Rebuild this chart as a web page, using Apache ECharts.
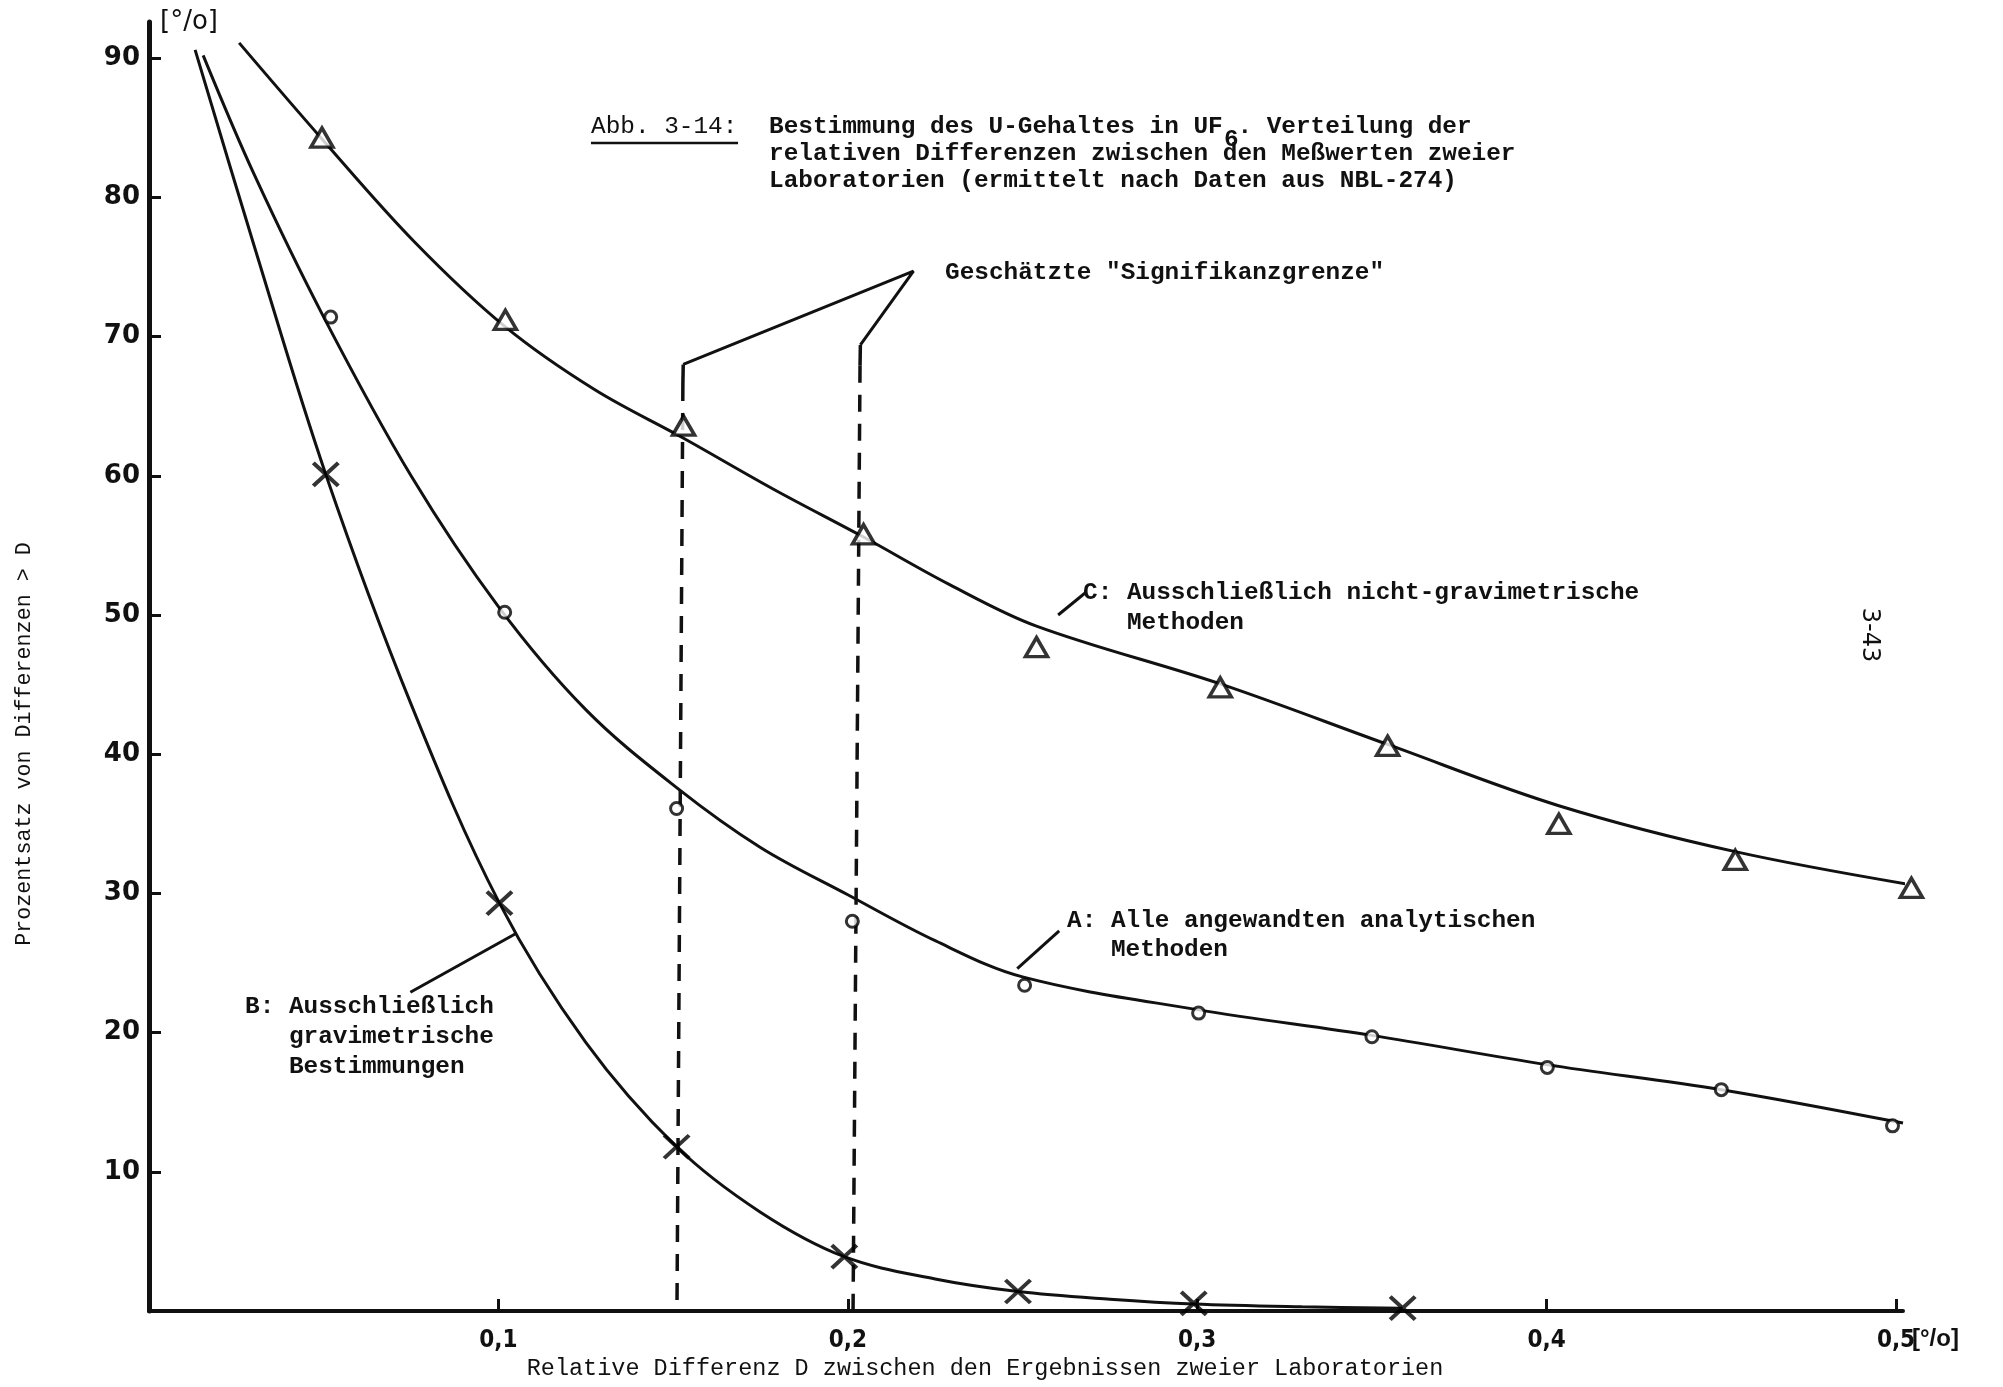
<!DOCTYPE html>
<html>
<head>
<meta charset="utf-8">
<script src="https://cdn.jsdelivr.net/npm/echarts@6/dist/echarts.min.js"></script>
<style>
  html, body { margin: 0; padding: 0; background: #fff; }
  #chart { width: 2003px; height: 1387px; }
</style>
</head>
<body>
<div id="chart"></div>
<script>
// Relative Differenz D [%] gegen Prozentsatz von Differenzen > D [%]

// Kurve A: alle angewandten analytischen Methoden (Ausgleichskurve und Messpunkte)
const curveA = [
  [0.0155, 90.2], [0.03, 81.7], [0.050, 71.4], [0.075, 60.0], [0.100, 50.6],
  [0.125, 43.2], [0.151, 37.6], [0.175, 33.3], [0.200, 29.9], [0.225, 26.6],
  [0.250, 24.0], [0.300, 21.65], [0.350, 19.8], [0.400, 17.7], [0.450, 15.9],
  [0.502, 13.5]
];
const pointsA = [
  [0.052, 71.4], [0.1018, 50.2], [0.151, 36.1], [0.2013, 28.0], [0.2506, 23.4],
  [0.3004, 21.4], [0.350, 19.7], [0.4002, 17.5], [0.450, 15.9], [0.499, 13.3]
];

// Kurve B: ausschließlich gravimetrische Bestimmungen
const curveB = [
  [0.0132, 90.6], [0.030, 76.6], [0.0506, 60.1], [0.075, 43.6], [0.1003, 29.3],
  [0.125, 19.3], [0.151, 11.8], [0.175, 7.1], [0.199, 3.9], [0.225, 2.3],
  [0.2487, 1.4], [0.275, 0.85], [0.299, 0.5], [0.330, 0.3], [0.3588, 0.2]
];
const pointsB = [
  [0.0506, 60.1], [0.1003, 29.3], [0.151, 11.8], [0.199, 3.9], [0.2487, 1.4],
  [0.299, 0.55], [0.3588, 0.2]
];

// Kurve C: ausschließlich nicht-gravimetrische Methoden
const curveC = [
  [0.0258, 91.1], [0.0495, 84.2], [0.076, 76.8], [0.102, 70.7], [0.1275, 66.2],
  [0.153, 62.7], [0.179, 59.0], [0.2045, 55.6], [0.229, 52.2], [0.254, 49.2],
  [0.3066, 45.05], [0.3545, 40.7], [0.4035, 36.3], [0.454, 33.0], [0.5095, 30.4]
];
const pointsC = [
  [0.0495, 84.3], [0.102, 71.2], [0.153, 63.6], [0.2045, 55.8], [0.254, 47.7],
  [0.3066, 44.8], [0.3545, 40.6], [0.4035, 35.0], [0.454, 32.4], [0.5044, 30.4]
];

// Geschätzte Signifikanzgrenze: Klammer und senkrechte Grenzlinien
const limitBracket = [[0.1529, 68.0], [0.2188, 74.7], [0.2036, 69.4]];
const limitLeftSolid = [[0.1529, 68.0], [0.1528, 66.6]];
const limitLeftDashed = [[0.1528, 66.6], [0.1511, 0]];
const limitRightSolid = [[0.2036, 69.4], [0.2035, 67.9]];
const limitRightDashed = [[0.2035, 67.9], [0.2015, 0]];

// Hinweisstriche zu den Kurvenbeschriftungen
const leaderA = [[0.2485, 24.6], [0.2605, 27.3]];
const leaderB = [[0.0748, 22.9], [0.1049, 27.1]];
const leaderC = [[0.2602, 50.0], [0.2680, 51.6]];

// Achsenteilung
const xTickValues = [0.1, 0.2, 0.3, 0.4, 0.5];
const yTickValues = [10, 20, 30, 40, 50, 60, 70, 80, 90];

const INK = '#111';
const MONO = '"Liberation Mono", "DejaVu Sans Mono", monospace';

function curve(data) {
  return {
    type: 'line', data, smooth: 0.35, showSymbol: false,
    clip: false, silent: true, z: 3,
    lineStyle: { color: INK, width: 3 }
  };
}
function straight(data, width, dash) {
  return {
    type: 'line', data, showSymbol: false, clip: false, silent: true, z: 2,
    lineStyle: { color: INK, width, type: dash || 'solid', cap: 'butt' }
  };
}
function text(str, x, y, opts) {
  opts = opts || {};
  return {
    type: 'text', x, y, rotation: opts.rotation || 0, silent: true, z: 10,
    style: {
      text: str, fill: INK,
      fontSize: opts.size || 24.4, fontFamily: opts.family || MONO,
      fontWeight: opts.weight || 'normal',
      align: opts.align || 'left', verticalAlign: 'middle'
    }
  };
}
function lines(strs, x, y, gap, opts) {
  return strs.map((s, i) => text(s, x, y + i * gap, opts));
}

const chart = echarts.init(document.getElementById('chart'), null, { renderer: 'canvas' });

chart.setOption({
  backgroundColor: '#fff',
  animation: false,
  grid: { left: 149, right: 100, top: 22, bottom: 76, containLabel: false },
  xAxis: {
    type: 'value', min: 0, max: 0.502, interval: 0.1,
    axisLine: { lineStyle: { color: INK, width: 4 } },
    axisTick: { inside: true, length: 12, customValues: xTickValues,
      lineStyle: { color: INK, width: 3 } },
    axisLabel: {
      customValues: xTickValues, margin: 18, color: INK, fontSize: 24,
      fontFamily: '"Liberation Sans Narrow", "DejaVu Sans Condensed", "Liberation Sans", sans-serif',
      fontWeight: 'bold',
      formatter: v => v.toFixed(1).replace('.', ',')
    },
    splitLine: { show: false }
  },
  yAxis: {
    type: 'value', min: 0, max: 92.6, interval: 10,
    axisLine: { lineStyle: { color: INK, width: 5 } },
    axisTick: { inside: true, length: 12, customValues: yTickValues,
      lineStyle: { color: INK, width: 3 } },
    axisLabel: {
      customValues: yTickValues, margin: 9, color: INK, fontSize: 26,
      fontFamily: '"DejaVu Sans", sans-serif', fontWeight: 'bold'
    },
    splitLine: { show: false }
  },
  series: [
    curve(curveA), curve(curveB), curve(curveC),
    straight(limitBracket, 3),
    straight(limitLeftSolid, 3.5),
    straight(limitLeftDashed, 3.5, [17, 12]),
    straight(limitRightSolid, 3.5),
    straight(limitRightDashed, 3.5, [17, 12]),
    straight(leaderA, 3), straight(leaderB, 3), straight(leaderC, 3),
    {
      type: 'scatter', data: pointsA, symbol: 'circle', symbolSize: 12, z: 5,
      clip: false, silent: true,
      itemStyle: { color: '#fff', borderColor: '#000', borderWidth: 3 }
    },
    {
      type: 'scatter', data: pointsB, symbol: 'path://M0,0L24,22M24,0L0,22',
      symbolSize: [25, 23], z: 5, clip: false, silent: true,
      itemStyle: { color: 'transparent', borderColor: '#000', borderWidth: 4 }
    },
    {
      type: 'scatter', data: pointsC, symbol: 'triangle', symbolSize: [22, 19], z: 5,
      clip: false, silent: true,
      itemStyle: { color: '#fff', borderColor: '#000', borderWidth: 3.5 }
    }
  ],
  graphic: [
    // Einheit an der Ordinate und an der Abszisse
    text('[°/o]', 160, 22, { size: 26, family: '"DejaVu Sans", sans-serif' }),
    text('[°/o]', 1912, 1339, { size: 24, family: '"Liberation Sans Narrow", "Liberation Sans", sans-serif', weight: 'bold' }),
    // Achsentitel
    text('Prozentsatz von Differenzen > D', 24, 744,
      { size: 21.7, align: 'center', rotation: Math.PI / 2 }),
    text('Relative Differenz D zwischen den Ergebnissen zweier Laboratorien', 985, 1369,
      { size: 23.5, align: 'center' }),
    // Abbildungstitel
    text('Abb. 3-14:', 591, 127),
    {
      type: 'line', silent: true, z: 10,
      shape: { x1: 591, y1: 143, x2: 738, y2: 143 },
      style: { stroke: INK, lineWidth: 2.5 }
    },
    ...lines([
      'Bestimmung des U-Gehaltes in UF . Verteilung der',
      'relativen Differenzen zwischen den Meßwerten zweier',
      'Laboratorien (ermittelt nach Daten aus NBL-274)'
    ], 769, 127, 27, { weight: 'bold' }),
    text('6', 1224, 140, { weight: 'bold' }),
    // Signifikanzgrenze
    text('Geschätzte "Signifikanzgrenze"', 945, 273, { weight: 'bold' }),
    // Kurvenbeschriftungen
    ...lines(['C: Ausschließlich nicht-gravimetrische', '   Methoden'], 1083, 593, 30, { weight: 'bold' }),
    ...lines(['A: Alle angewandten analytischen', '   Methoden'], 1067, 921, 29, { weight: 'bold' }),
    ...lines(['B: Ausschließlich', '   gravimetrische', '   Bestimmungen'], 245, 1007, 30, { weight: 'bold' }),
    // Seitenzahl
    text('3-43', 1869, 635, { size: 24, align: 'center', rotation: -Math.PI / 2,
      family: '"DejaVu Sans", sans-serif' })
  ]
});
</script>
</body>
</html>
